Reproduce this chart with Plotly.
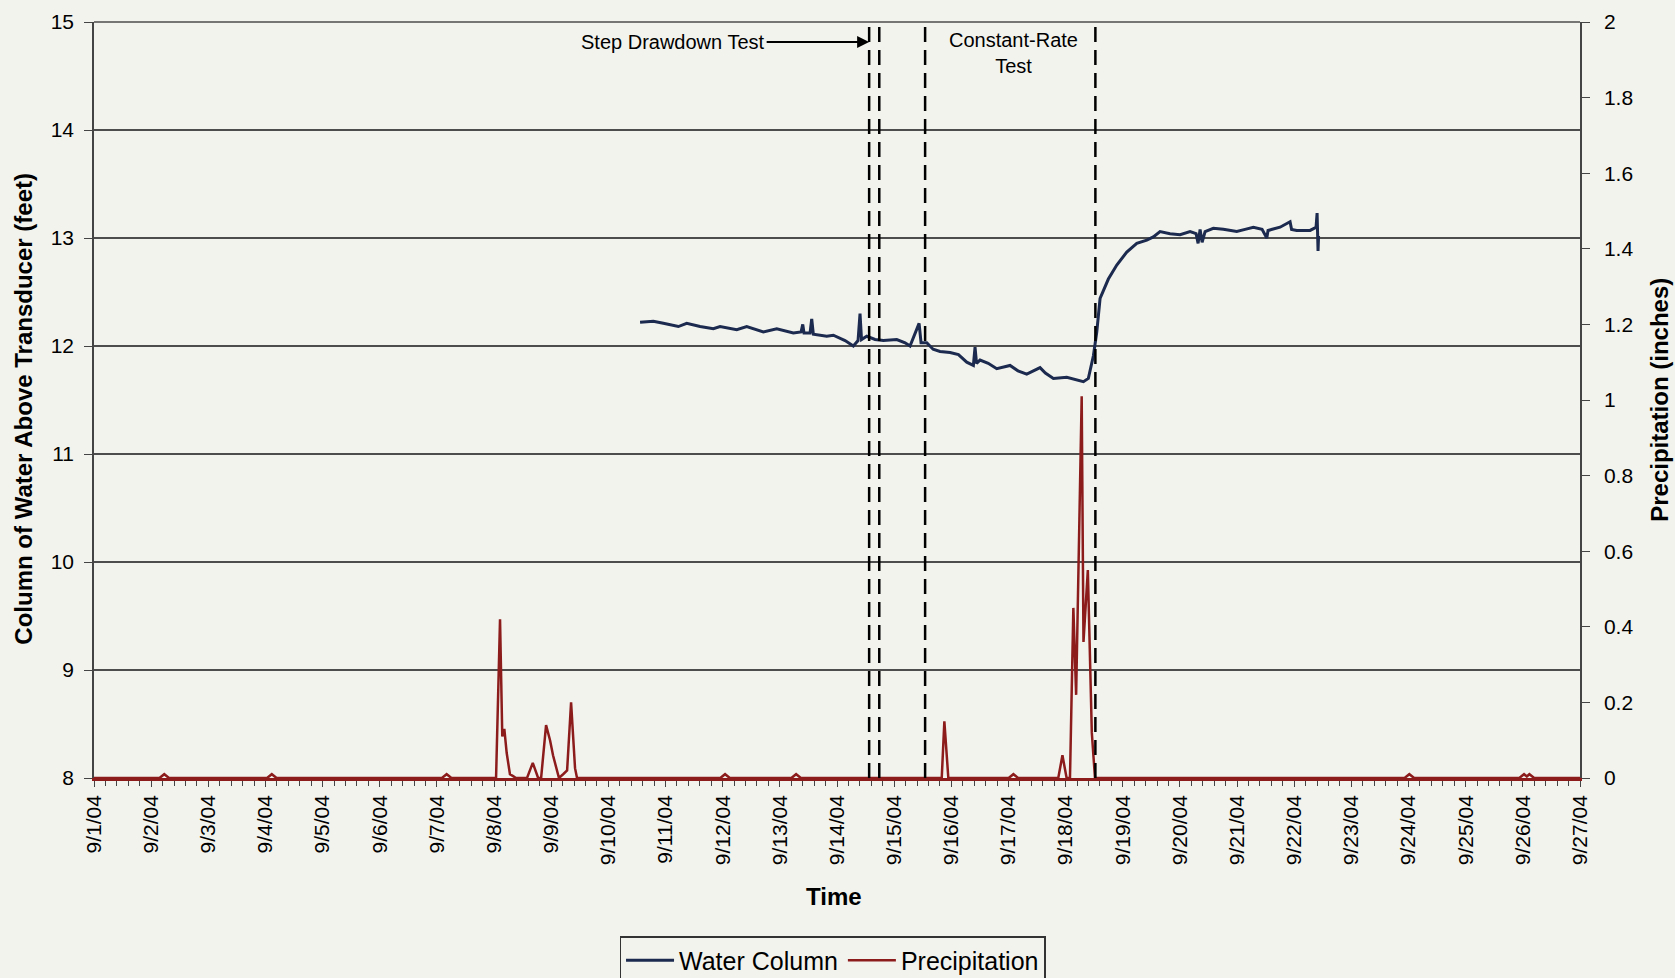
import plotly.graph_objects as go

# ---------------- data ----------------
wc_time = [
    "2004-09-10 13:18", "2004-09-10 18:53", "2004-09-10 23:05", "2004-09-11 05:23", "2004-09-11 08:54",
    "2004-09-11 14:30", "2004-09-11 20:04", "2004-09-11 22:54", "2004-09-12 05:54", "2004-09-12 10:06",
    "2004-09-12 17:04", "2004-09-12 22:42", "2004-09-13 05:40", "2004-09-13 08:54", "2004-09-13 09:37",
    "2004-09-13 10:09", "2004-09-13 12:41", "2004-09-13 13:23", "2004-09-13 14:04", "2004-09-13 19:41",
    "2004-09-13 22:28", "2004-09-14 03:23", "2004-09-14 06:52", "2004-09-14 08:50", "2004-09-14 09:40",
    "2004-09-14 10:18", "2004-09-14 12:29", "2004-09-14 15:59", "2004-09-14 19:28", "2004-09-15 01:06",
    "2004-09-15 04:35", "2004-09-15 06:40", "2004-09-15 10:28", "2004-09-15 11:18", "2004-09-15 13:41",
    "2004-09-15 16:21", "2004-09-15 19:16", "2004-09-15 23:29", "2004-09-16 03:00", "2004-09-16 06:29",
    "2004-09-16 09:16", "2004-09-16 09:58", "2004-09-16 10:36", "2004-09-16 12:04", "2004-09-16 15:30",
    "2004-09-16 19:05", "2004-09-17 00:40", "2004-09-17 04:00", "2004-09-17 07:41", "2004-09-17 11:00",
    "2004-09-17 13:16", "2004-09-17 15:30", "2004-09-17 18:52", "2004-09-18 00:29", "2004-09-18 04:00",
    "2004-09-18 07:28", "2004-09-18 09:33", "2004-09-18 11:40", "2004-09-18 13:05", "2004-09-18 14:28",
    "2004-09-18 17:57", "2004-09-18 21:29", "2004-09-19 01:41", "2004-09-19 05:53", "2004-09-19 10:05",
    "2004-09-19 12:50", "2004-09-19 15:39", "2004-09-19 19:51", "2004-09-20 00:04", "2004-09-20 04:16",
    "2004-09-20 06:47", "2004-09-20 07:38", "2004-09-20 08:28", "2004-09-20 09:19", "2004-09-20 10:34",
    "2004-09-20 14:02", "2004-09-20 18:14", "2004-09-20 23:52", "2004-09-21 03:22", "2004-09-21 06:50",
    "2004-09-21 10:29", "2004-09-21 12:29", "2004-09-21 13:00", "2004-09-21 18:03", "2004-09-21 22:15",
    "2004-09-21 22:53", "2004-09-22 01:03", "2004-09-22 06:39", "2004-09-22 09:10", "2004-09-22 09:36",
    "2004-09-22 10:00", "2004-09-22 10:13",
]
wc_feet = [
    12.22, 12.23, 12.21, 12.18, 12.21,
    12.18, 12.16, 12.18, 12.15, 12.18,
    12.13, 12.16, 12.12, 12.13, 12.20,
    12.12, 12.12, 12.25, 12.11, 12.09,
    12.10, 12.05, 12.00, 12.05, 12.30,
    12.06, 12.09, 12.06, 12.05, 12.06,
    12.03, 12.00, 12.21, 12.03, 12.03,
    11.97, 11.95, 11.94, 11.92, 11.85,
    11.82, 11.99, 11.84, 11.87, 11.84,
    11.79, 11.82, 11.77, 11.74, 11.78,
    11.80, 11.75, 11.70, 11.71, 11.69,
    11.67, 11.70, 11.91, 12.13, 12.44,
    12.62, 12.75, 12.87, 12.95, 12.98,
    13.01, 13.06, 13.04, 13.03, 13.06,
    13.04, 12.95, 13.08, 12.96, 13.06,
    13.09, 13.08, 13.06, 13.08, 13.10,
    13.08, 13.00, 13.07, 13.10, 13.15,
    13.08, 13.07, 13.07, 13.10, 13.23,
    12.88, 13.02,
]

precip_time = [
    "2004-09-01 00:00", "2004-09-02 03:30", "2004-09-02 05:30", "2004-09-02 07:30",
    "2004-09-04 00:40", "2004-09-04 02:40", "2004-09-04 04:40",
    "2004-09-07 02:05", "2004-09-07 04:05", "2004-09-07 06:05",
    "2004-09-08 00:50", "2004-09-08 02:30", "2004-09-08 03:27", "2004-09-08 04:18", "2004-09-08 05:18",
    "2004-09-08 06:40", "2004-09-08 08:00", "2004-09-08 09:10",
    "2004-09-08 13:50", "2004-09-08 16:15", "2004-09-08 18:30",
    "2004-09-08 19:45", "2004-09-08 21:50", "2004-09-08 23:30", "2004-09-09 00:45", "2004-09-09 03:15",
    "2004-09-09 05:00", "2004-09-09 06:40", "2004-09-09 08:20", "2004-09-09 10:00", "2004-09-09 10:50",
    "2004-09-11 23:00", "2004-09-12 01:00", "2004-09-12 03:00",
    "2004-09-13 04:50", "2004-09-13 06:50", "2004-09-13 08:50",
    "2004-09-15 19:59", "2004-09-15 21:05", "2004-09-15 22:45",
    "2004-09-17 00:05", "2004-09-17 02:05", "2004-09-17 04:05",
    "2004-09-17 20:55", "2004-09-17 22:40", "2004-09-18 00:25",
    "2004-09-18 01:50", "2004-09-18 03:15", "2004-09-18 04:25", "2004-09-18 06:45", "2004-09-18 07:30",
    "2004-09-18 09:20", "2004-09-18 11:00", "2004-09-18 12:20",
    "2004-09-23 22:20", "2004-09-24 00:20", "2004-09-24 02:20",
    "2004-09-25 22:30", "2004-09-26 00:30", "2004-09-26 01:40", "2004-09-26 02:45", "2004-09-26 04:45",
    "2004-09-27 00:00",
]
precip_in = [
    0, 0, 0.01, 0,
    0, 0.01, 0,
    0, 0.01, 0,
    0, 0.42, 0.11, 0.13, 0.066,
    0.01, 0.005, 0,
    0, 0.04, 0,
    0, 0.14, 0.10, 0.06, 0,
    0.01, 0.02, 0.20, 0.026, 0,
    0, 0.01, 0,
    0, 0.01, 0,
    0, 0.15, 0,
    0, 0.01, 0,
    0, 0.06, 0,
    0, 0.45, 0.22, 1.01, 0.36,
    0.55, 0.12, 0,
    0, 0.01, 0,
    0, 0.01, 0.004, 0.01, 0,
    0,
]

test_markers = ["2004-09-14 13:30", "2004-09-14 17:45", "2004-09-15 13:00", "2004-09-18 12:30"]

x_range = ["2004-09-01", "2004-09-27"]
left_range = [8, 15]
right_range = [0, 2]

# ---------------- styling ----------------
FONT = "Liberation Sans, Arial, sans-serif"
BG = "#f3f3ee"
NAVY = "#1b2a4e"
RED = "#8c1c1c"
GRID = "#4d4d4d"

fig = go.Figure()
fig.add_trace(go.Scatter(x=wc_time, y=wc_feet, mode="lines", name="Water Column",
                         line=dict(color=NAVY, width=3), yaxis="y"))
fig.add_trace(go.Scatter(x=precip_time, y=precip_in, mode="lines", name="Precipitation",
                         line=dict(color=RED, width=2.5), yaxis="y2"))

shapes = []
for t in test_markers:
    shapes.append(dict(type="line", xref="x", yref="paper", x0=t, x1=t, y0=0, y1=1,
                       line=dict(color="black", width=2.5, dash="15px,8px"), layer="above"))
shapes.append(dict(type="line", xref="paper", yref="paper", x0=0, x1=1, y0=1, y1=1,
                   line=dict(color=GRID, width=1.5), layer="below"))

annotations = [
    dict(x=test_markers[0], xref="x", y=0.9735, yref="paper", text="Step Drawdown Test",
         showarrow=True, ax=-196, ay=0, arrowhead=2, arrowsize=1.2, arrowwidth=2,
         arrowcolor="black", font=dict(size=20, color="black", family=FONT)),
    dict(x=0.619, xref="paper", y=0.959, yref="paper", text="Constant-Rate<br>Test",
         showarrow=False, xanchor="center", yanchor="middle",
         font=dict(size=20, color="black", family=FONT)),
    dict(x=-0.0474, xref="paper", y=0.488, yref="paper",
         text="<b>Column of Water Above Transducer (feet)</b>", textangle=-90,
         showarrow=False, xanchor="center", yanchor="middle",
         font=dict(size=24, color="black", family=FONT)),
    dict(x=1.053, xref="paper", y=0.5, yref="paper",
         text="<b>Precipitation (inches)</b>", textangle=-90,
         showarrow=False, xanchor="center", yanchor="middle",
         font=dict(size=24, color="black", family=FONT)),
    dict(x=0.498, xref="paper", y=-0.157, yref="paper", text="<b>Time</b>",
         showarrow=False, xanchor="center", yanchor="middle",
         font=dict(size=24, color="black", family=FONT)),
]

fig.update_layout(
    width=1675, height=978,
    margin=dict(l=94, r=95, t=22, b=200, autoexpand=False),
    paper_bgcolor=BG, plot_bgcolor=BG,
    font=dict(family=FONT, size=21, color="black"),
    showlegend=True,
    legend=dict(orientation="h", x=0.497, xanchor="center", y=-0.209, yanchor="top",
                bgcolor=BG, bordercolor="#333333", borderwidth=1.5,
                font=dict(size=25, family=FONT, color="black"), itemwidth=48),
    xaxis=dict(type="date", range=x_range, dtick=86400000, tick0="2004-09-01",
               tickformat="%-m/%-d/%y", tickangle=-90, ticks="outside", ticklen=6,
               tickcolor="#444", tickwidth=1.2,
               minor=dict(dtick=17280000, ticks="outside", ticklen=5, tickcolor="#444", tickwidth=1),
               showline=True, linecolor=RED, linewidth=2.5, showgrid=False, zeroline=False,
               tickfont=dict(size=21)),
    yaxis=dict(range=left_range, dtick=1, ticks="outside", ticklen=8, tickcolor="#444",
               showline=True, linecolor="#444", linewidth=1.5,
               showgrid=True, gridcolor=GRID, gridwidth=1.5, zeroline=False,
               ticklabelstandoff=6, tickfont=dict(size=21)),
    yaxis2=dict(range=right_range, dtick=0.2, overlaying="y", side="right", ticks="outside",
                ticklen=8, tickcolor="#444", showline=True, linecolor="#444", linewidth=1.5,
                showgrid=False, zeroline=False, ticklabelstandoff=10, tickfont=dict(size=21)),
    shapes=shapes,
    annotations=annotations,
)

fig.write_html("out.html", config={"displayModeBar": False},
               post_script="document.body.style.margin='0';document.body.style.overflow='hidden';")
